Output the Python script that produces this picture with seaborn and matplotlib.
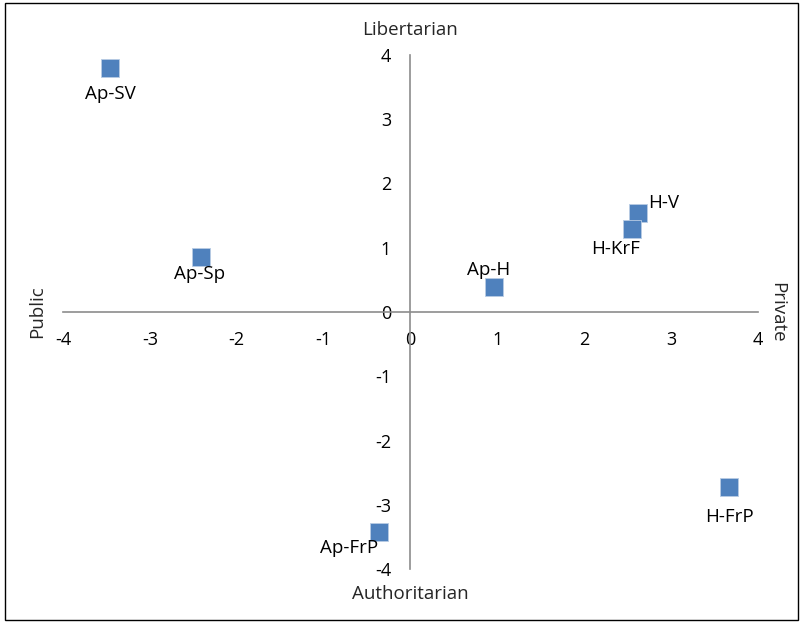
import matplotlib
matplotlib.use("Agg")
import matplotlib.pyplot as plt
import seaborn as sns
import pandas as pd
from matplotlib.patches import Rectangle

# party positions: public/private (x) vs authoritarian/libertarian (y)
parties = ['Ap-SV', 'Ap-Sp', 'Ap-H', 'H-V', 'H-KrF', 'H-FrP', 'Ap-FrP']
x_vals = [-3.46, -2.41, 0.96, 2.62, 2.55, 3.67, -0.36]
y_vals = [3.80, 0.86, 0.39, 1.54, 1.29, -2.72, -3.42]
ticks = [-4, -3, -2, -1, 0, 1, 2, 3, 4]

# label offsets in points (dx, dy, ha, va)
offsets = {
    'Ap-SV': (0, -12, 'center', 'top'),
    'Ap-Sp': (-1, -6, 'center', 'top'),
    'Ap-H': (-4, 6, 'center', 'bottom'),
    'H-V': (7, 1, 'left', 'bottom'),
    'H-KrF': (-12, -8, 'center', 'top'),
    'H-FrP': (0, -15, 'center', 'top'),
    'Ap-FrP': (-1, -5, 'right', 'top'),
}

df = pd.DataFrame({'party': parties, 'x': x_vals, 'y': y_vals})

sns.set_style('white')
plt.rcParams['font.family'] = ['Open Sans', 'DejaVu Sans']
fs = 13.5

fig = plt.figure(figsize=(8.03, 6.23), dpi=100)
ax = fig.add_axes([63 / 803, 1 - 569 / 623, 695 / 803, 514 / 623])

sns.scatterplot(data=df, x='x', y='y', ax=ax, marker='s', s=150,
                color='#4F81BD', edgecolor='#B8CCE4', linewidth=0.6, zorder=3)

for name, xv, yv in zip(parties, x_vals, y_vals):
    dx, dy, ha, va = offsets[name]
    ax.annotate(name, (xv, yv), xytext=(dx, dy), textcoords='offset points',
                ha=ha, va=va, fontsize=fs, color='black')

ax.set_xlim(-4, 4)
ax.set_ylim(-4, 4)
ax.set_xticks(ticks)
ax.set_yticks(ticks)
ax.set_xticklabels([str(t) for t in ticks])
ax.set_yticklabels([str(t) for t in ticks])
ax.set_xlabel('')
ax.set_ylabel('')

for side in ['top', 'right']:
    ax.spines[side].set_visible(False)
for side in ['left', 'bottom']:
    ax.spines[side].set_position(('data', 0))
    ax.spines[side].set_color('#8C8C8C')
    ax.spines[side].set_linewidth(1.2)

ax.tick_params(axis='both', direction='out', length=4, width=1.0,
               color='#8C8C8C', labelsize=13, labelcolor='black', pad=10)

# quadrant titles
fig.text(410 / 803, 1 - 30 / 623, 'Libertarian', ha='center', va='center', fontsize=fs)
fig.text(410 / 803, 1 - 594 / 623, 'Authoritarian', ha='center', va='center', fontsize=fs)
fig.text(37 / 803, 1 - 312 / 623, 'Public', ha='center', va='center', rotation=90, fontsize=fs)
fig.text(777 / 803, 1 - 312 / 623, 'Private', ha='center', va='center', rotation=270, fontsize=fs)

# outer frame
fig.patches.append(Rectangle((5 / 803, 3 / 623), 793 / 803, 617 / 623,
                             transform=fig.transFigure, fill=False,
                             edgecolor='black', linewidth=1.0))

fig.savefig('out.png', dpi=100, facecolor='white')
